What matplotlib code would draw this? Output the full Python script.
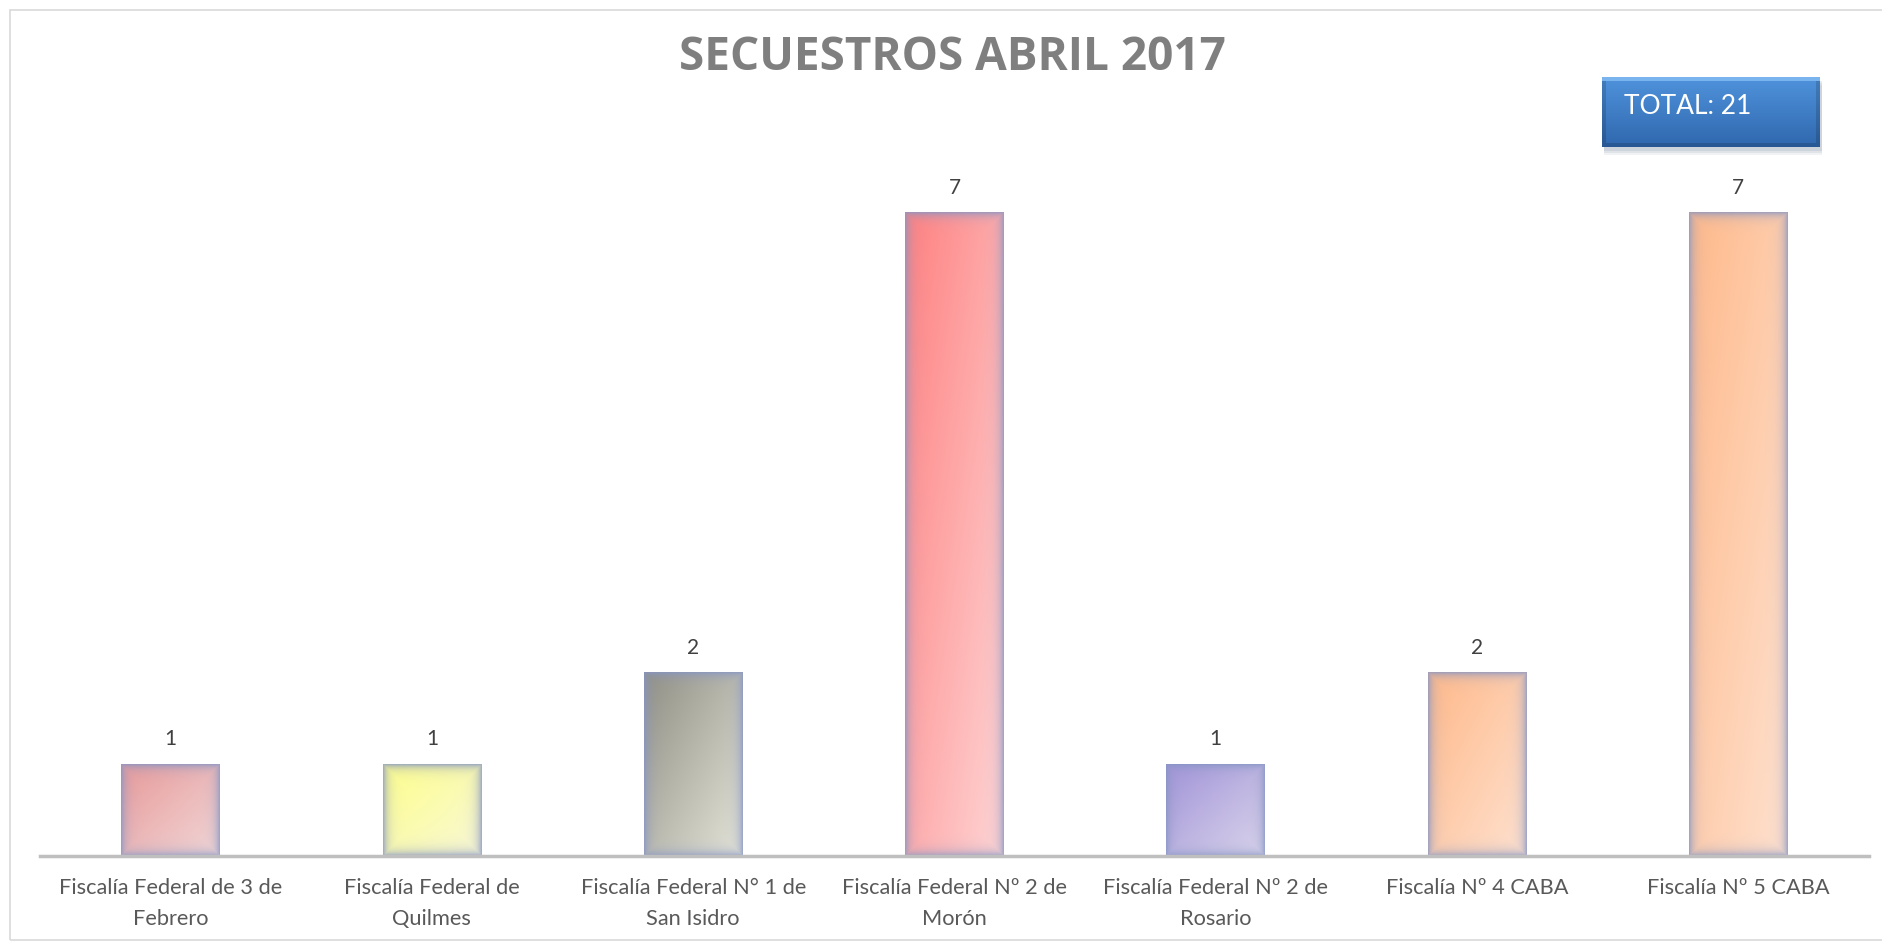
import numpy as np
import matplotlib
matplotlib.use('agg')
from matplotlib import pyplot as plt
from matplotlib.patches import Rectangle
from matplotlib.colors import to_rgb

plt.rcParams['font.family'] = ['Lato', 'DejaVu Sans']

categories = [
    "Fiscalía Federal de 3 de\nFebrero",
    "Fiscalía Federal de\nQuilmes",
    "Fiscalía Federal N° 1 de\nSan Isidro",
    "Fiscalía Federal Nº 2 de\nMorón",
    "Fiscalía Federal Nº 2 de\nRosario",
    "Fiscalía Nº 4 CABA",
    "Fiscalía Nº 5 CABA",
]
values = [1, 1, 2, 7, 1, 2, 7]
total_label = "TOTAL: 21"
title = "SECUESTROS ABRIL 2017"

# gradient colors (top-left strong, bottom-right pale)
colors_start = ["#e89a9a", "#ffff8c", "#908f84", "#ff8080", "#a294d8", "#ffb98a", "#ffb98a"]
colors_end = ["#f2d8d8", "#f8f8d8", "#e6e6da", "#ffd6d6", "#dcd6ec", "#ffe2d0", "#ffe2d0"]
glow = np.array(to_rgb("#8796c4"))

W, H, DPI = 1883, 943, 100
fig = plt.figure(figsize=(W / DPI, H / DPI), dpi=DPI)
fig.patch.set_facecolor("white")

# outer chart frame
fig.patches.append(Rectangle((10 / W, 3 / H), 1.2, 1 - 13 / H, transform=fig.transFigure,
                             fill=False, edgecolor="#d9d9d9", linewidth=1.2, zorder=-5))

ax = fig.add_axes([40 / W, 1 - 856 / H, 1829 / W, 735 / H])
ax.set_xlim(-0.5, len(values) - 0.5)
ax.set_ylim(0, 8)
for s in ["top", "left", "right"]:
    ax.spines[s].set_visible(False)
ax.spines["bottom"].set_color("#bfbfbf")
ax.spines["bottom"].set_linewidth(2.5)
ax.set_yticks([])
ax.set_xticks(range(len(values)))
ax.set_xticklabels(categories, fontsize=15.7, color="#595959", linespacing=1.65)
ax.tick_params(axis="x", length=0, pad=16)

bw = 0.378
bars = ax.bar(range(len(values)), values, width=bw, color="none", edgecolor="none")
px_per_unit = 735 / 8
for i, (b, v) in enumerate(zip(bars, values)):
    hp = int(v * px_per_unit)
    wp = 99
    yy, xx = np.mgrid[0:hp, 0:wp]
    t = (xx / wp * 0.5 + yy / hp * 0.5)[..., None]
    c0 = np.array(to_rgb(colors_start[i]))
    c1 = np.array(to_rgb(colors_end[i]))
    img = c0 * (1 - t) + c1 * t
    d = np.minimum(np.minimum(xx, wp - 1 - xx), np.minimum(yy, hp - 1 - yy))[..., None]
    g = 0.75 * np.exp(-d / 5.0)
    img = img * (1 - g) + glow * g
    ax.imshow(img, extent=(i - bw / 2, i + bw / 2, 0, v), origin="upper",
              aspect="auto", interpolation="bilinear", zorder=2)
    ax.text(i, v + 0.16, str(v), ha="center", va="bottom", fontsize=15, color="#404040")
ax.set_xlim(-0.5, len(values) - 0.5)
ax.set_ylim(0, 8)

fig.text(952 / W, 1 - 58 / H, title, ha="center", va="center", fontsize=33,
         fontweight="bold", color="#7f7f7f", family=["Open Sans", "DejaVu Sans"])

# TOTAL box with soft shadow and blue gradient
bx0, by0, bx1, by1 = 1602, 77, 1820, 147
for k, a in [(8, 0.12), (6, 0.15), (4, 0.2)]:
    fig.patches.append(Rectangle(((bx0 + 2) / W, 1 - (by1 + k) / H), (bx1 - bx0) / W, (by1 - by0) / H,
                                 transform=fig.transFigure, facecolor="#8a96a8", edgecolor="none",
                                 alpha=a, zorder=1))
bax = fig.add_axes([bx0 / W, 1 - by1 / H, (bx1 - bx0) / W, (by1 - by0) / H])
bax.set_zorder(3)
bh, bwid = by1 - by0, bx1 - bx0
yy, xx = np.mgrid[0:bh, 0:bwid]
tt = (yy / bh)[..., None]
top = np.array(to_rgb("#4f93dc"))
bot = np.array(to_rgb("#2f67ad"))
bimg = top * (1 - tt) + bot * tt
edge = np.minimum(np.minimum(xx, bwid - 1 - xx), np.minimum(yy, bh - 1 - yy))[..., None]
bimg = np.where(edge < 4, bimg * 0.85, bimg)
bimg[:4] = np.array(to_rgb("#7ab4ee"))
bax.imshow(bimg, extent=(0, 1, 0, 1), aspect="auto", origin="upper")
bax.set_axis_off()
bax.text(0.1, 0.58, total_label, ha="left", va="center", fontsize=19, color="white",
         transform=bax.transAxes)

fig.savefig("out.png", dpi=DPI)
